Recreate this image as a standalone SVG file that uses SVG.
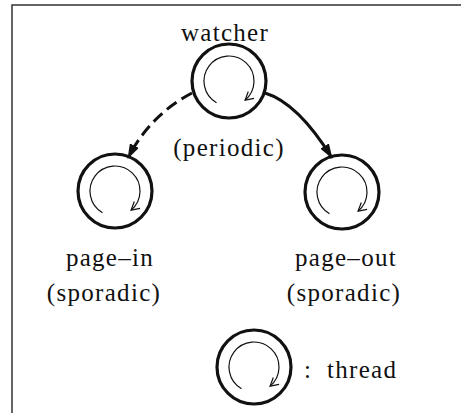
<svg xmlns="http://www.w3.org/2000/svg" xmlns:xlink="http://www.w3.org/1999/xlink" width="461" height="413" viewBox="0 0 461 413">
  <style>
    .ring { fill: none; stroke: #111; stroke-width: 3.2; }
    .spin { fill: none; stroke: #111; stroke-width: 1.2; }
    .edge { fill: none; stroke: #111; stroke-width: 3; }
    .dash { stroke-dasharray: 12 6; }
    .lbl { font-family: "Liberation Serif", "DejaVu Serif", serif; font-size: 25px; fill: #111; letter-spacing: 1.3px; }
    .frame { fill: none; stroke: #333; stroke-width: 1.5; }
  </style>
  <defs>
    <marker id="tip" viewBox="0 0 15 10" refX="14" refY="5" markerWidth="15" markerHeight="10" markerUnits="userSpaceOnUse" orient="auto">
      <path d="M0,0 L15,5 L0,10 Z" fill="#111"/>
    </marker>
    <marker id="vee" viewBox="-10 -6 12 12" refX="0" refY="0" markerWidth="12" markerHeight="12" markerUnits="userSpaceOnUse" orient="auto">
      <path d="M-8,-4.5 L0,0 L-8,4.5" fill="none" stroke="#111" stroke-width="1.2"/>
    </marker>
    <path id="spinpath" class="spin" d="M-12.5,21.65 A25,25 0 1 1 16.07,19.15" marker-end="url(#vee)"/>
  </defs>

  <rect width="461" height="413" fill="#fff"/>
  <path class="frame" d="M12,413 V5 H461"/>

  <g id="connectors">
    <path class="edge dash" d="M192,93 Q150,115 128,158" marker-end="url(#tip)"/>
    <path class="edge" d="M265,93 Q298,103 332,158" marker-end="url(#tip)"/>
  </g>

  <g id="watcher">
    <circle class="ring" cx="229" cy="81" r="37"/>
    <use xlink:href="#spinpath" href="#spinpath" x="229" y="81"/>
    <text class="lbl" x="225" y="41" text-anchor="middle" font-family="Liberation Serif, serif">watcher</text>
    <text class="lbl" x="229" y="156" text-anchor="middle" font-family="Liberation Serif, serif">(periodic)</text>
  </g>

  <g id="page-in">
    <circle class="ring" cx="115" cy="191" r="37"/>
    <use xlink:href="#spinpath" href="#spinpath" x="115" y="191"/>
    <text class="lbl" x="110" y="266" text-anchor="middle" font-family="Liberation Serif, serif">page–in</text>
    <text class="lbl" x="104" y="301" text-anchor="middle" font-family="Liberation Serif, serif">(sporadic)</text>
  </g>

  <g id="page-out">
    <circle class="ring" cx="342" cy="192" r="37"/>
    <use xlink:href="#spinpath" href="#spinpath" x="342" y="192"/>
    <text class="lbl" x="346" y="266" text-anchor="middle" font-family="Liberation Serif, serif">page–out</text>
    <text class="lbl" x="344" y="301" text-anchor="middle" font-family="Liberation Serif, serif">(sporadic)</text>
  </g>

  <g id="legend">
    <circle class="ring" cx="254" cy="367" r="37"/>
    <use xlink:href="#spinpath" href="#spinpath" x="254" y="367"/>
    <text class="lbl" x="304" y="378" font-family="Liberation Serif, serif">:</text>
    <text class="lbl" x="327" y="378" font-family="Liberation Serif, serif">thread</text>
  </g>
</svg>
